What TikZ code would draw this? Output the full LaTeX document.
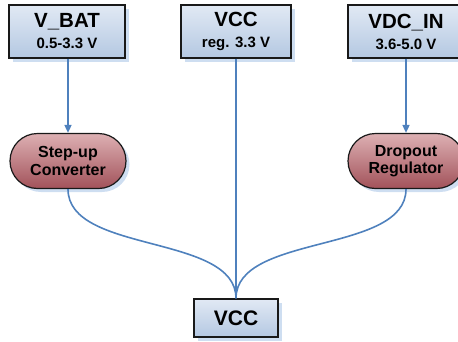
\documentclass[tikz,border=0pt]{standalone}
\usepackage{fontspec}
\setmainfont{Liberation Sans}
\usetikzlibrary{shapes.misc,shadows,arrows.meta}

\definecolor{wire}{HTML}{4F81BD}
\definecolor{boxtop}{HTML}{E1E9F4}
\definecolor{boxbot}{HTML}{B4C8E2}
\definecolor{pilltop}{HTML}{DDB0B3}
\definecolor{pillbot}{HTML}{A2525A}
\definecolor{shade}{HTML}{C9DAF0}

% two-line rail label: large name, smaller voltage range
\newcommand{\railtext}[2]{{\fontsize{20.5}{21}\selectfont #1}\\#2}

\tikzset{
  railbox/.style={draw=black!90, line width=1.2pt, rectangle,
    top color=boxtop, bottom color=boxbot,
    drop shadow={shadow xshift=3.5pt, shadow yshift=-3.5pt, fill=shade, opacity=0.9},
    inner sep=0pt, align=center, font=\fontsize{15}{21}\selectfont\bfseries},
  convpill/.style={draw=black!90, line width=1.2pt, rounded rectangle,
    top color=pilltop, bottom color=pillbot,
    drop shadow={shadow xshift=3.5pt, shadow yshift=-3.5pt, fill=shade, opacity=0.9},
    minimum width=116pt, minimum height=55pt, inner sep=0pt,
    align=center, font=\fontsize{16}{17.5}\selectfont\bfseries},
  wireline/.style={draw=wire, line width=1.6pt},
  feed/.style={wireline, -{Triangle[length=8pt,width=7pt]}},
}

\begin{document}
\begin{tikzpicture}[x=1pt,y=-1pt]
  \useasboundingbox (0,0) rectangle (458,341);
  \clip (0,0) rectangle (458,341);

  % supply inputs
  \node[railbox, minimum width=116pt, minimum height=53pt] (vbat) at (67,31.5)
    {\railtext{V\_BAT}{0.5-3.3 V}};
  \node[railbox, minimum width=110pt, minimum height=53pt] (vccin) at (236,31.5)
    {\railtext{VCC}{reg. 3.3 V}};
  \node[railbox, minimum width=116pt, minimum height=53pt] (vdcin) at (406,31.5)
    {\railtext{VDC\_IN}{3.6-5.0 V}};

  % converters
  \node[convpill] (stepup) at (68,161) {Step-up\\Converter};
  \node[convpill] (dropout) at (406,161) {Dropout\\Regulator};

  % output rail
  \node[railbox, minimum width=84pt, minimum height=38pt] (vccout) at (236,318)
    {\fontsize{21}{22}\selectfont VCC};

  % connections
  \draw[feed] (vbat.south -| stepup.north) -- (stepup.north);
  \draw[feed] (vdcin.south -| dropout.north) -- (dropout.north);
  \draw[wireline] (vccin.south) -- (vccout.north);
  \draw[wireline] (stepup.south) .. controls +(0,65) and +(0,-65) .. (vccout.north);
  \draw[wireline] (dropout.south) .. controls +(0,65) and +(0,-65) .. (vccout.north);
\end{tikzpicture}
\end{document}
